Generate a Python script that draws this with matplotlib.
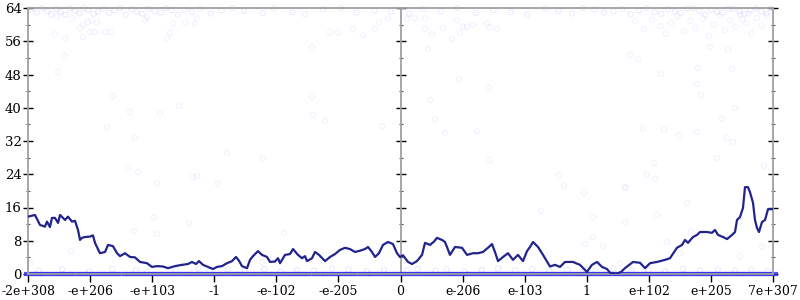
import numpy as np
import matplotlib.pyplot as plt

# x axis: position along the float ordering, 0..100 between the end ticks
tick_labels = ['-2e+308', '-e+206', '-e+103', '-1', '-e-102', '-e-205', '0',
               'e-206', 'e-103', '1', 'e+102', 'e+205', '7e+307']

# averaged error line
line_pos = [0.0, 0.94, 1.61, 2.28, 2.55, 2.95, 3.22, 3.62, 4.03, 4.30,
            4.97, 5.37, 5.91, 6.31, 6.71, 6.98, 7.25, 7.65, 8.32, 8.72,
            8.99, 9.66, 10.34, 10.74, 11.41, 11.95, 12.35, 13.02, 13.69, 14.36,
            15.03, 15.97, 16.64, 17.32, 18.12, 18.79, 19.73, 20.67, 21.48, 22.01,
            22.55, 22.95, 23.49, 24.16, 24.83, 25.37, 26.04, 26.71, 27.38, 27.92,
            28.32, 28.72, 29.40, 29.80, 30.20, 30.87, 31.41, 32.08, 32.48, 33.15,
            33.56, 33.83, 34.50, 35.17, 35.57, 36.24, 36.78, 37.18, 37.45, 38.12,
            38.52, 39.06, 39.87, 40.54, 41.21, 41.88, 42.55, 43.22, 43.89, 44.56,
            45.23, 45.64, 46.17, 46.58, 47.11, 47.65, 48.32, 48.99, 49.53, 49.93,
            50.34, 51.01, 51.54, 52.21, 52.89, 53.29, 53.96, 54.50, 54.90, 55.57,
            55.97, 56.24, 56.64, 57.32, 58.26, 58.93, 59.73, 60.40, 61.07, 61.74,
            62.28, 62.68, 63.09, 63.76, 64.43, 65.10, 65.77, 66.44, 66.98, 67.38,
            67.79, 68.46, 69.13, 70.07, 70.74, 71.41, 72.08, 73.15, 74.09, 75.03,
            75.70, 76.38, 77.05, 77.72, 78.12, 78.93, 79.60, 80.13, 81.21, 82.15,
            82.82, 83.49, 84.43, 85.50, 86.17, 87.11, 87.79, 88.19, 88.59, 89.26,
            89.80, 90.20, 91.14, 91.81, 92.21, 92.62, 93.29, 93.83, 94.50, 94.90,
            95.17, 95.57, 95.97, 96.24, 96.64, 96.91, 97.32, 97.58, 97.85, 98.12,
            98.52, 98.93, 99.33, 100.0]
line_err = [13.8, 14.2, 11.8, 11.4, 12.6, 11.3, 13.5, 13.5, 12.3, 14.2,
            13.0, 13.8, 12.6, 12.8, 10.6, 8.2, 8.7, 8.9, 9.0, 9.3,
            7.5, 5.0, 5.3, 7.0, 6.7, 5.0, 4.3, 5.0, 4.1, 4.0,
            2.9, 2.6, 1.7, 1.9, 1.8, 1.4, 1.9, 2.2, 2.4, 2.9,
            2.4, 3.1, 2.2, 1.7, 1.2, 1.7, 1.9, 2.6, 3.1, 4.1,
            3.2, 1.9, 1.4, 3.4, 4.3, 5.5, 4.6, 4.1, 2.9, 3.0,
            3.8, 2.6, 4.6, 4.8, 6.0, 4.6, 3.8, 4.3, 3.1, 3.8,
            5.3, 4.6, 3.1, 4.1, 4.8, 5.8, 6.3, 6.0, 5.3, 5.6,
            6.0, 6.5, 5.3, 4.1, 5.0, 7.0, 7.7, 7.2, 5.0, 4.1,
            4.5, 2.9, 2.4, 3.1, 4.6, 7.5, 7.0, 7.8, 8.7, 8.2,
            7.7, 6.5, 4.6, 6.5, 6.3, 4.6, 5.0, 5.0, 5.3, 6.3,
            7.2, 5.3, 3.1, 4.1, 5.0, 3.4, 4.6, 3.1, 5.5, 6.5,
            7.7, 6.5, 4.6, 1.8, 2.2, 1.7, 2.9, 2.9, 2.2, 0.5,
            2.2, 2.9, 1.7, 1.2, 0.3, 0.0, 0.5, 1.4, 2.9, 2.7,
            1.4, 2.6, 2.9, 3.4, 3.8, 6.3, 7.0, 8.2, 7.5, 8.9,
            9.4, 10.1, 10.1, 9.9, 10.6, 9.4, 8.9, 8.4, 9.4, 10.1,
            13.0, 13.7, 15.9, 20.9, 20.9, 19.7, 17.1, 13.0, 11.1, 10.1,
            12.5, 13.0, 15.6, 15.6]

# sampled points with error near the maximum
top_pos = [0.5, 1.2, 1.9, 2.6, 3.1, 3.8, 4.4, 5.0, 5.6, 6.3,
           6.9, 7.5, 8.1, 8.8, 9.4, 10.2, 10.9, 11.6, 12.4, 13.1,
           13.9, 14.6, 15.3, 16.2, 17.0, 17.8, 18.5, 19.3, 20.1, 21.0,
           22.0, 23.1, 24.5, 26.0, 27.4, 29.0, 31.5, 33.0, 35.5, 37.2,
           39.6, 42.0, 44.1, 46.5, 48.7, 51.2, 53.0, 55.4, 57.6, 60.1,
           62.5, 64.8, 67.0, 69.4, 71.2, 73.0, 74.5, 76.0, 77.3, 78.6,
           79.8, 80.9, 82.0, 83.0, 84.1, 85.0, 85.9, 86.8, 87.6, 88.5,
           89.3, 90.1, 90.9, 91.7, 92.5, 93.2, 94.0, 94.7, 95.5, 96.2,
           97.0, 97.7, 98.4, 99.1, 99.7]
top_err = [63.6, 62.9, 64.0, 63.2, 62.5, 63.8, 63.0, 62.4, 63.9, 63.3,
           62.7, 64.0, 63.5, 62.6, 63.1, 63.9, 62.8, 63.4, 64.0, 62.3,
           63.7, 63.0, 62.6, 63.8, 63.2, 62.9, 64.0, 63.5, 62.4, 63.6,
           63.1, 63.9, 62.7, 63.4, 64.0, 63.3, 62.8, 63.9, 63.0, 62.5,
           63.7, 64.0, 62.9, 63.4, 63.1, 62.6, 63.8, 63.2, 64.0, 62.8,
           63.5, 63.0, 62.4, 63.9, 63.3, 62.7, 64.0, 63.6, 62.9, 63.2,
           63.8, 62.5, 63.4, 64.0, 63.0, 62.6, 63.7, 63.1, 62.8, 63.9,
           64.0, 63.3, 62.4, 63.6, 63.0, 62.9, 63.8, 64.0, 63.2, 62.6,
           63.5, 64.0, 63.1, 62.7, 63.9]

# scattered sampled points in between
mid_pos = [3.89, 5.91, 6.98, 7.38, 8.05, 8.59, 9.26, 8.32, 8.99, 10.34,
           11.01, 3.62, 4.97, 7.38, 4.97, 4.03, 11.41, 13.69, 17.72, 20.27,
           10.60, 14.36, 18.66, 19.06, 19.46, 21.07, 22.42, 22.68, 15.70, 15.97,
           38.12, 38.12, 38.26, 39.87, 47.52, 54.63, 55.97, 60.27, 53.96, 57.85,
           61.88, 53.69, 44.97, 40.54, 41.61, 43.62, 46.58, 47.11, 48.32, 50.87,
           51.95, 53.29, 53.29, 54.23, 55.70, 56.91, 57.58, 57.99, 58.39, 58.93,
           59.73, 61.61, 62.01, 62.95, 80.81, 81.88, 84.97, 89.93, 94.50, 89.80,
           90.34, 94.90, 93.15, 82.55, 85.37, 87.38, 89.80, 93.83, 94.63, 91.54,
           93.96, 84.03, 83.09, 84.16, 92.48, 98.79, 80.13, 88.46, 80.13, 98.52,
           77.18, 95.57, 85.77, 87.52, 71.28, 71.95, 74.63, 80.27, 68.86, 75.84,
           84.43, 88.99, 75.84, 74.77, 79.46, 26.71, 31.54, 25.50, 34.36, 31.41,
           13.42, 14.77, 17.32, 22.68, 16.91, 21.61, 17.32, 14.23, 5.77, 0.27,
           22.15, 62.01, 81.5, 82.7, 83.8, 84.9, 85.6, 86.3, 87.2, 88.0,
           88.9, 89.6, 90.6, 91.4, 92.1, 92.9, 93.5, 94.2, 95.0, 95.6,
           96.4, 97.1, 97.8, 98.5, 99.2, 95.9, 96.7]
mid_err = [62.0, 61.6, 59.2, 60.0, 60.6, 61.0, 60.5, 58.2, 58.2, 58.2,
           58.2, 57.7, 56.8, 57.0, 52.5, 48.6, 42.8, 39.0, 38.7, 40.4,
           35.4, 32.7, 56.8, 58.0, 60.2, 60.5, 60.2, 61.5, 61.1, 61.8,
           54.6, 42.6, 38.3, 36.8, 35.6, 37.3, 33.9, 34.4, 41.9, 46.9,
           44.8, 54.1, 57.5, 58.2, 58.1, 59.0, 59.0, 60.5, 61.5, 61.4,
           61.5, 61.5, 59.0, 57.7, 59.2, 56.6, 61.0, 58.0, 59.5, 59.5,
           60.0, 60.3, 59.3, 59.0, 52.7, 51.7, 48.1, 49.6, 49.3, 45.7,
           43.1, 40.0, 37.3, 35.1, 34.7, 33.4, 34.2, 32.7, 31.8, 54.6,
           53.9, 26.7, 24.0, 22.9, 27.9, 26.0, 20.9, 17.1, 12.5, 6.5,
           6.7, 4.3, 7.7, 5.0, 23.8, 21.2, 19.5, 20.7, 15.2, 13.7,
           14.2, 10.3, 8.9, 7.2, 2.6, 29.1, 27.9, 21.7, 9.9, 2.9,
           25.5, 24.5, 21.9, 23.6, 13.7, 12.3, 9.6, 10.3, 5.5, 2.6,
           23.3, 27.4, 60.8, 58.9, 61.2, 59.6, 57.8, 60.4, 62.0, 58.4,
           60.9, 59.1, 61.5, 57.2, 60.0, 62.2, 58.6, 61.0, 59.5, 62.4,
           60.3, 57.9, 61.6, 59.8, 62.1, 61.3, 62.6]

# sampled points with small error
low_pos = [1.5, 4.6, 8.2, 11.3, 14.5, 16.0, 19.8, 22.9, 24.4, 26.8,
           29.1, 31.7, 33.9, 36.1, 38.4, 40.8, 43.0, 45.5, 47.8, 50.9,
           52.3, 54.7, 56.2, 58.6, 60.9, 63.1, 65.4, 67.7, 70.0, 72.4,
           74.8, 76.2, 78.6, 81.0, 83.3, 85.5, 87.9, 90.2, 92.6, 94.9,
           97.1, 99.3]
low_err = [0.8, 1.1, 0.6, 1.2, 0.9, 0.5, 1.0, 1.3, 0.7, 1.1,
           0.9, 1.2, 0.6, 1.0, 0.8, 1.3, 1.1, 0.7, 1.0, 0.9,
           1.2, 0.8, 1.1, 0.6, 1.0, 1.3, 0.9, 1.2, 0.7, 1.0,
           1.1, 0.8, 1.3, 0.9, 1.0, 0.6, 1.2, 0.9, 1.1, 0.8,
           1.0, 0.7]

# sampled points with zero error
zero_pos = [0.3, 1.1, 1.8, 2.4, 3.3, 4.0, 4.9, 5.5, 6.4, 7.2, 7.9, 8.6, 9.5,
            10.1, 11.0, 11.7, 12.5, 13.4, 14.0, 14.9, 15.6, 16.3, 17.2, 17.9,
            18.7, 19.4, 20.2, 21.1, 21.8, 22.5, 23.4, 24.1, 24.9, 25.6, 26.4,
            27.3, 28.0, 28.7, 29.6, 30.3, 31.0, 31.9, 32.6, 33.4, 34.1, 35.0,
            35.7, 36.5, 37.2, 38.0, 38.9, 39.6, 40.3, 41.2, 41.9, 42.7, 43.4,
            44.2, 45.1, 45.8, 46.5, 47.4, 48.1, 48.9, 49.6, 50.4, 51.2, 51.9,
            52.8, 53.5, 54.2, 55.1, 55.8, 56.6, 57.3, 58.2, 58.9, 59.6, 60.5,
            61.2, 62.0, 62.8, 63.5, 64.3, 65.0, 65.9, 66.6, 67.3, 68.2, 68.9,
            69.7, 70.4, 71.3, 72.0, 72.7, 73.6, 74.3, 75.1, 75.8, 76.7, 77.4,
            78.1, 79.0, 79.7, 80.5, 81.2, 82.1, 82.8, 83.5, 84.4, 85.1, 85.9,
            86.6, 87.5, 88.2, 88.9, 89.8, 90.5, 91.3, 92.0, 92.9, 93.6, 94.3,
            95.2, 95.9, 96.7, 97.4, 98.3, 99.0, 99.8]

y_ticks = [0, 8, 16, 24, 32, 40, 48, 56, 64]
y_minor = [4, 12, 20, 28, 36, 44, 52, 60]

plt.rcParams['font.family'] = 'DejaVu Serif'

fig = plt.figure(figsize=(8, 3), dpi=100)
ax = fig.add_axes([28 / 800, 26 / 300, 745 / 800, 266 / 300])

pts_kw = dict(s=14, facecolors='none', linewidths=0.9, zorder=2)
ax.scatter(top_pos, top_err, edgecolors=(0.25, 0.25, 1, 0.09), clip_on=False, **pts_kw)
ax.scatter(mid_pos, mid_err, edgecolors=(0.25, 0.25, 1, 0.06), **pts_kw)
ax.scatter(low_pos, low_err, edgecolors=(0.25, 0.25, 1, 0.10), **pts_kw)
# zero-error samples sit on top of one another, forming a solid band
ax.scatter(zero_pos, [0] * len(zero_pos), marker='_', s=70,
           color='#3434ec', alpha=0.85, linewidths=3, clip_on=False, zorder=2)

ax.plot(line_pos, line_err, color='#23238e', lw=1.6, zorder=3)

ax.set_xlim(0, 100)
ax.set_ylim(0, 64)
ax.set_xticks(np.linspace(0, 100, 13))
ax.set_xticklabels(tick_labels)
ax.set_yticks(y_ticks)
ax.set_yticks(y_minor, minor=True)

for side in ['left', 'right', 'top', 'bottom']:
    ax.spines[side].set_color('#a0a0a0')
    ax.spines[side].set_linewidth(1.3)

ax.tick_params(axis='y', which='major', direction='inout', length=7, width=1,
               right=True, labelsize=9.5, pad=1)
ax.tick_params(axis='y', which='minor', direction='inout', length=3, width=0.8,
               color='#555555', right=True)
ax.tick_params(axis='x', which='major', direction='out', length=6, width=1,
               labelsize=9, pad=2)

# the axis through zero
mid = ax.secondary_yaxis(50, transform=ax.transData)
mid.set_yticks(y_ticks)
mid.set_yticks(y_minor, minor=True)
mid.tick_params(which='major', direction='inout', length=7, width=1,
                labelleft=False, labelright=False)
mid.tick_params(which='minor', direction='inout', length=3, width=0.8,
                color='#555555', labelleft=False, labelright=False)
for sp in mid.spines.values():
    sp.set_color('#a0a0a0')
    sp.set_linewidth(1.3)

fig.savefig('out.png', dpi=100)
